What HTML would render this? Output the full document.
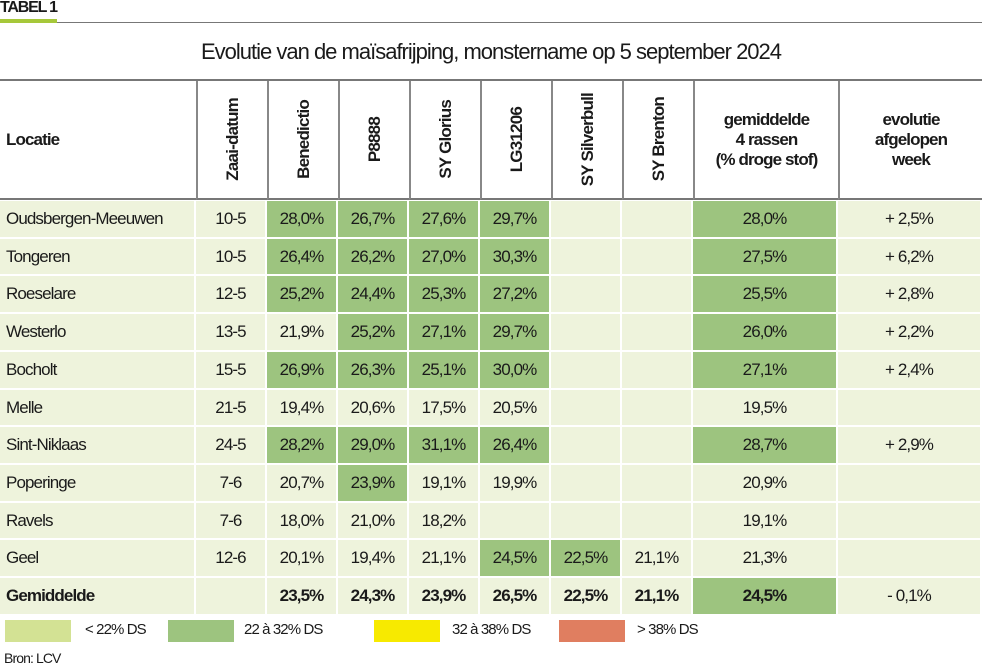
<!DOCTYPE html>
<html><head><meta charset="utf-8">
<style>
body{margin:0;width:982px;height:669px;background:#fff;position:relative;overflow:hidden;font-family:"Liberation Sans",sans-serif;color:#1a1a1a}
.a{position:absolute;box-sizing:border-box}
.c{display:flex;align-items:center;justify-content:center;font-size:17px;letter-spacing:-0.9px}
.v{writing-mode:vertical-rl;transform:rotate(180deg);font-weight:bold;font-size:17px;letter-spacing:-0.8px}
</style></head><body>
<div class="a" style="left:0;top:-1px;font-weight:bold;font-size:16px;letter-spacing:-1.2px">TABEL 1</div>
<div class="a" style="left:0;top:19px;width:57px;height:4px;background:#a6c83a"></div>
<div class="a" style="left:57px;top:22px;width:925px;height:1px;background:#777"></div>
<div class="a" style="left:0;top:39px;width:982px;text-align:center;font-size:22px;letter-spacing:-1px">Evolutie van de maïsafrijping, monstername op 5 september 2024</div>
<div class="a" style="left:0;top:79px;width:982px;height:2px;background:#777"></div>
<div id="t"></div>
<script>
const cols=[0,196,267,338,409,480,551,622,693,838,982];
const headers=["Locatie","Zaai-datum","Benedictio","P8888","SY Glorius","LG31206","SY Silverbull","SY Brenton","gemiddelde<br>4 rassen<br>(% droge stof)","evolutie<br>afgelopen<br>week"];
const locations=["Oudsbergen-Meeuwen","Tongeren","Roeselare","Westerlo","Bocholt","Melle","Sint-Niklaas","Poperinge","Ravels","Geel","Gemiddelde"];
const sowDates=["10-5","10-5","12-5","13-5","15-5","21-5","24-5","7-6","7-6","12-6",""];
const benedictio=[28.0,26.4,25.2,21.9,26.9,19.4,28.2,20.7,18.0,20.1,23.5];
const p8888=[26.7,26.2,24.4,25.2,26.3,20.6,29.0,23.9,21.0,19.4,24.3];
const glorius=[27.6,27.0,25.3,27.1,25.1,17.5,31.1,19.1,18.2,21.1,23.9];
const lg31206=[29.7,30.3,27.2,29.7,30.0,20.5,26.4,19.9,null,24.5,26.5];
const silverbull=[null,null,null,null,null,null,null,null,null,22.5,22.5];
const brenton=[null,null,null,null,null,null,null,null,null,21.1,21.1];
const average=[28.0,27.5,25.5,26.0,27.1,19.5,28.7,20.9,19.1,21.3,24.5];
const evolution=["+ 2,5%","+ 6,2%","+ 2,8%","+ 2,2%","+ 2,4%","","+ 2,9%","","","","- 0,1%"];
const T=document.getElementById('t');
const fmt=v=>v==null?"":v.toFixed(1).replace('.',',')+'%';
function cell(x0,x1,y0,y1,html,bg,cls,name){
  const d=document.createElement('div');
  d.className='a c '+(cls||'');
  d.style.cssText=`left:${x0}px;top:${y0}px;width:${x1-x0}px;height:${y1-y0}px;background:${bg};border-right:2px solid #fff;border-bottom:2px solid #fff`;
  d.innerHTML=html;
  
  
  T.appendChild(d);return d;
}
for(let i=0;i<headers.length;i++){
  const d=document.createElement('div');
  d.className='a c';
  d.style.cssText=`left:${cols[i]}px;top:81px;width:${cols[i+1]-cols[i]}px;height:119px;border-left:${i?2:0}px solid #888;border-bottom:2px solid #777;font-weight:bold;text-align:center;line-height:20px`;
  if(i==0){d.style.justifyContent='flex-start';d.style.paddingLeft='6px';d.textContent=headers[i];}
  else if(i<8){d.innerHTML='<span class="v">'+headers[i]+'</span>';}
  else d.innerHTML=headers[i];
  
  
  T.appendChild(d);
}
const L='#eef3dc',G='#9dc47f';
const rowH=37.7;
for(let r=0;r<locations.length;r++){
  const y0=Math.round(201+r*rowH),y1=Math.round(201+(r+1)*rowH);
  const last=r==locations.length-1;
  let d=cell(cols[0],cols[1],y0,y1,locations[r],L,'','location-'+r);d.style.justifyContent='flex-start';d.style.paddingLeft='6px';if(last)d.style.fontWeight='bold';
  cell(cols[1],cols[2],y0,y1,sowDates[r],L,'','sow-date-'+r);
  const vals=[benedictio,p8888,glorius,lg31206,silverbull,brenton];
  for(let k=0;k<6;k++){
    const v=vals[k][r];
    const bg=(!last&&v!=null&&v>=22)?G:L;
    d=cell(cols[2+k],cols[3+k],y0,y1,fmt(v),bg,'','value-'+r+'-'+k);if(last)d.style.fontWeight='bold';
  }
  d=cell(cols[8],cols[9],y0,y1,fmt(average[r]),average[r]>=22?G:L,'','average-'+r);if(last)d.style.fontWeight='bold';
  cell(cols[9],cols[10],y0,y1,evolution[r],L,'','evolution-'+r);
}
</script>
<div class="a" style="left:5px;top:620px;width:66px;height:22px;background:#d3e294"></div>
<div class="a" style="left:85px;top:621px;font-size:15px;letter-spacing:-0.9px">&lt; 22% DS</div>
<div class="a" style="left:168px;top:620px;width:66px;height:22px;background:#9dc47f"></div>
<div class="a" style="left:244px;top:621px;font-size:15px;letter-spacing:-0.9px">22 à 32% DS</div>
<div class="a" style="left:374px;top:620px;width:66px;height:22px;background:#f7ea00"></div>
<div class="a" style="left:452px;top:621px;font-size:15px;letter-spacing:-0.9px">32 à 38% DS</div>
<div class="a" style="left:559px;top:620px;width:66px;height:22px;background:#e07e60"></div>
<div class="a" style="left:637px;top:621px;font-size:15px;letter-spacing:-0.9px">&gt; 38% DS</div>
<div class="a" style="left:4px;top:650px;font-size:14px;letter-spacing:-0.9px">Bron: LCV</div>
</body></html>
